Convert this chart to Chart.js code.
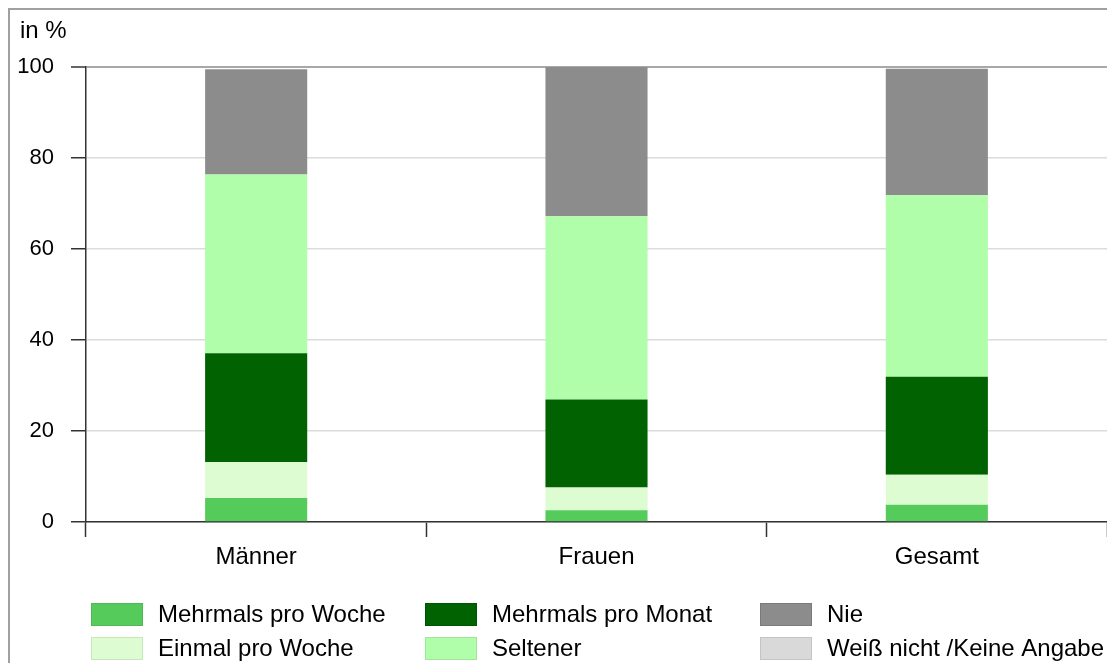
<!DOCTYPE html>
<html>
<head>
<meta charset="utf-8">
<script src="https://cdn.jsdelivr.net/npm/chart.js@4"></script>
<style>
    html, body { margin: 0; padding: 0; background: #fff; }
    #wrap { position: relative; width: 1107px; height: 663px; }
    #frame { position: absolute; left: 8px; top: 8px; right: 0; bottom: 0; border-left: 2px solid #a0a0a0; border-top: 2px solid #a0a0a0; }
    canvas { position: absolute; left: 0; top: 0; }
</style>
</head>
<body>
<div id="wrap">
    <div id="frame"></div>
    <canvas id="canvasChart" width="1107" height="663"></canvas>
</div>
<script>
"use strict";

var categories = ['Männer', 'Frauen', 'Gesamt'];
var seriesLabels = ['Mehrmals pro Woche', 'Einmal pro Woche', 'Mehrmals pro Monat', 'Seltener', 'Nie', 'Weiß nicht /Keine Angabe'];
var mehrmalsProWoche = [5.3, 2.6, 3.8];
var einmalProWoche = [7.9, 5.0, 6.6];
var mehrmalsProMonat = [23.9, 19.3, 21.5];
var seltener = [39.3, 40.3, 39.9];
var nie = [23.1, 32.8, 27.8];
var weissNicht = [0, 0, 0];
var yTicks = [0, 20, 40, 60, 80, 100];

var seriesColors = ['#55cb5c', '#ddfcd2', '#006200', '#b0fea9', '#8c8c8c', '#d9d9d9'];
var legendBorders = ['#4fb856', '#c6e6bb', '#005500', '#9fe59a', '#7a7a7a', '#c4c4c4'];

var FONT = "'Liberation Sans', Arial, Helvetica, sans-serif";

function $each(arr, fn) {
    for (var i = 0; i < arr.length; i++) fn(i, arr[i]);
}

var allValues = [mehrmalsProWoche, einmalProWoche, mehrmalsProMonat, seltener, nie, weissNicht];
var datasets = [];
$each(allValues, function (index, values) {
    datasets.push({
        label: seriesLabels[index],
        data: values,
        backgroundColor: seriesColors[index],
        borderWidth: 0,
        barPercentage: 0.3,
        categoryPercentage: 1.0
    });
});

// legend in 3 columns, 2 rows, plus the "in %" label
var extrasPlugin = {
    id: 'extras',
    afterDraw: function (chart) {
        var ctx = chart.ctx;
        ctx.save();
        ctx.font = '24px ' + FONT;
        ctx.fillStyle = '#000';
        ctx.textBaseline = 'middle';
        ctx.textAlign = 'left';
        ctx.fillText('in %', 20, 31);

        var colX = [91, 425, 760];
        var rowY = [603, 637];
        $each(seriesLabels, function (index, label) {
            var col = Math.floor(index / 2);
            var row = index % 2;
            var x = colX[col];
            var y = rowY[row];
            ctx.fillStyle = seriesColors[index];
            ctx.fillRect(x, y, 52, 23);
            ctx.strokeStyle = legendBorders[index];
            ctx.lineWidth = 1;
            ctx.strokeRect(x + 0.5, y + 0.5, 51, 22);
            ctx.fillStyle = '#000';
            ctx.fillText(label, x + 67, y + 12);
        });
        ctx.restore();
    }
};

var context = document.getElementById('canvasChart');
var myChart = new Chart(context, {
    type: 'bar',
    data: {
        labels: categories,
        datasets: datasets
    },
    options: {
        responsive: false,
        animation: false,
        layout: {
            padding: { left: 0, top: 67, right: 0, bottom: 0 }
        },
        plugins: {
            legend: { display: false },
            title: { display: false },
            tooltip: { enabled: false }
        },
        scales: {
            x: {
                stacked: true,
                afterFit: function (scale) { scale.height = 141; },
                border: { display: true, color: '#333', width: 1.5 },
                grid: {
                    offset: true,
                    drawOnChartArea: false,
                    drawTicks: true,
                    tickLength: 15,
                    tickColor: '#333',
                    tickWidth: 1.5
                },
                ticks: {
                    color: '#000',
                    padding: 6,
                    font: { family: FONT, size: 24 }
                }
            },
            y: {
                stacked: true,
                min: 0,
                max: 100,
                afterFit: function (scale) { scale.width = 86; },
                afterBuildTicks: function (scale) {
                    scale.ticks = yTicks.map(function (v) { return { value: v }; });
                },
                border: { display: true, color: '#333', width: 1.5 },
                grid: {
                    drawTicks: true,
                    tickLength: 15,
                    tickColor: '#333',
                    tickWidth: 1.5,
                    color: function (c) {
                        return c.tick && c.tick.value === 100 ? '#a8a8a8' : '#dcdcdc';
                    },
                    lineWidth: function (c) {
                        return c.tick && c.tick.value === 100 ? 2 : 1.5;
                    }
                },
                ticks: {
                    color: '#000',
                    padding: 17,
                    font: { family: FONT, size: 22 }
                }
            }
        }
    },
    plugins: [extrasPlugin]
});
</script>
</body>
</html>
